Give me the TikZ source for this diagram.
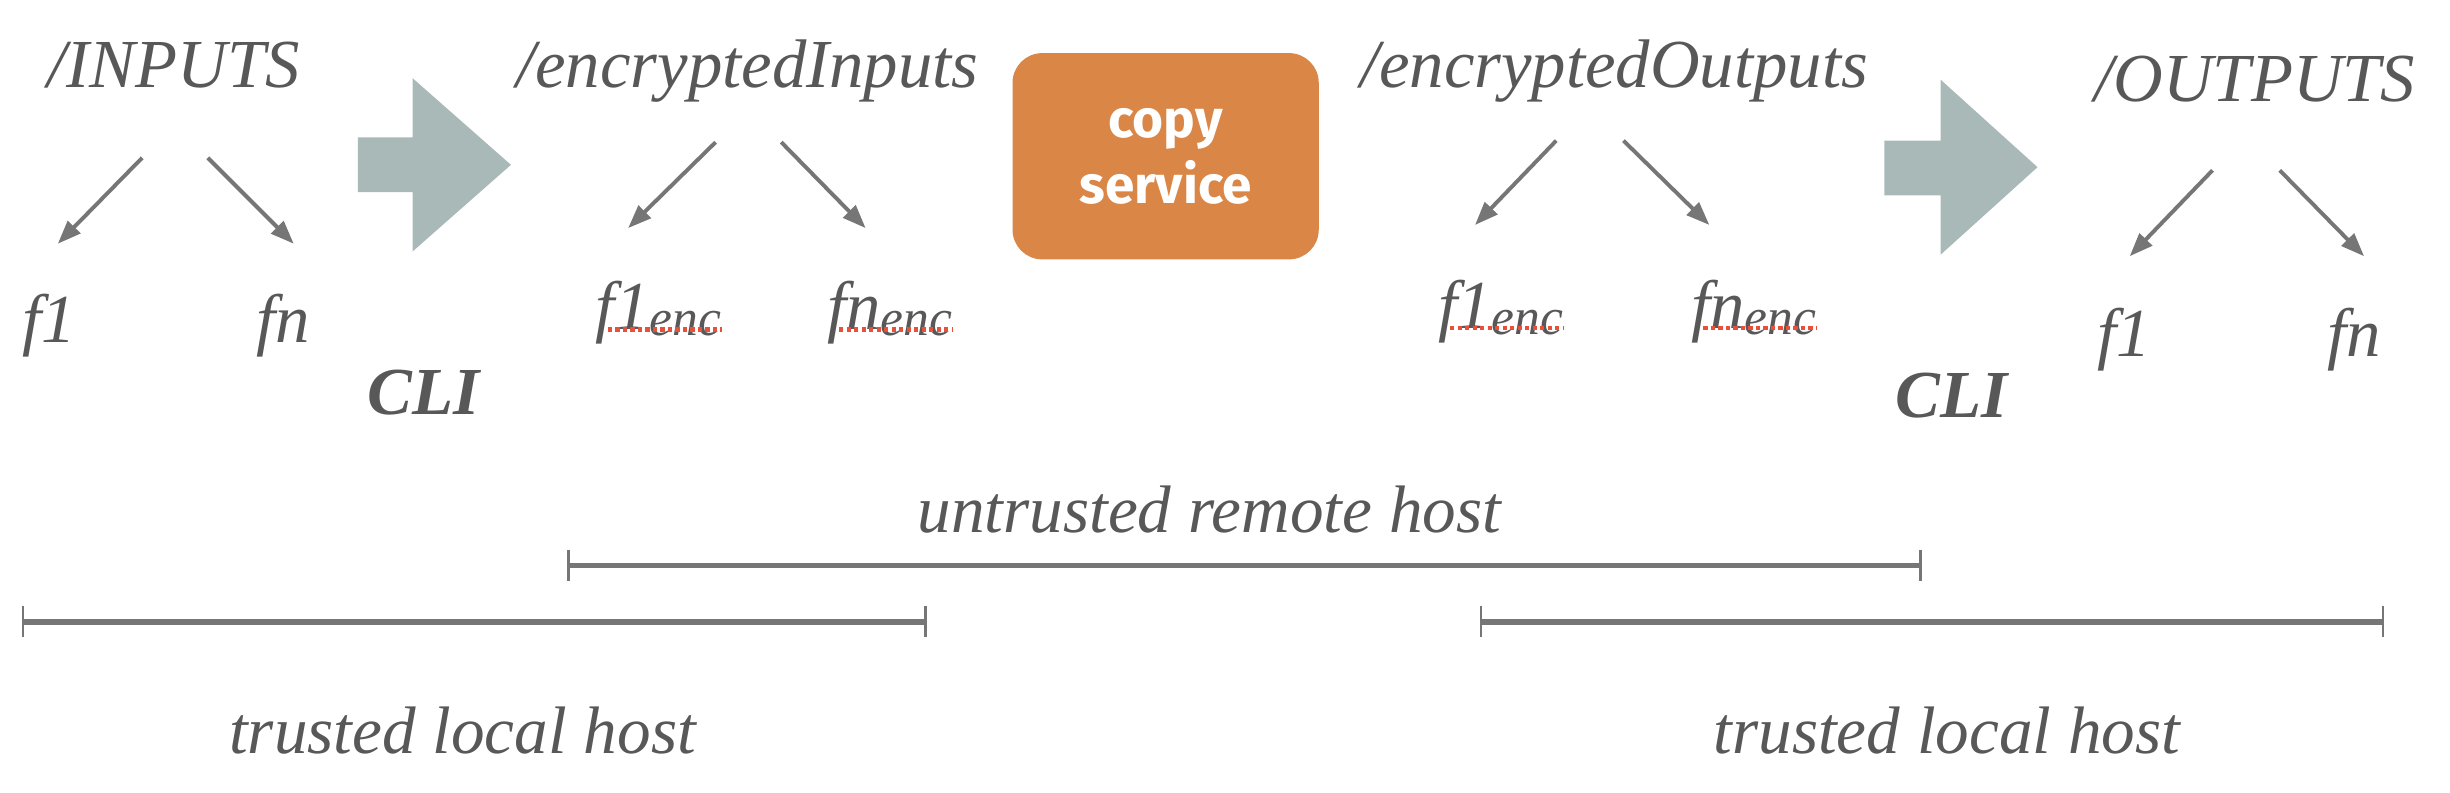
\documentclass[tikz,border=0pt]{standalone}
\usepackage{fontspec}
\setmainfont{Liberation Serif}
\newfontfamily\copyfont{Fira Sans}
\usetikzlibrary{arrows.meta}
\definecolor{txt}{HTML}{585858}
\definecolor{lin}{HTML}{767676}
\definecolor{bigarr}{HTML}{A9B9B8}
\definecolor{orng}{HTML}{DA8646}
\definecolor{spell}{HTML}{E8503A}
\newcommand\encsub{\raisebox{-2pt}{\fontsize{16.5}{18}\selectfont enc}}
\begin{document}
\begin{tikzpicture}[x=0.5pt,y=-0.5pt,
  lbl/.style={anchor=base west,inner sep=0pt,text=txt,font=\fontsize{22}{26}\selectfont\itshape},
  clabel/.style={anchor=base,inner sep=0pt,text=txt,font=\fontsize{21.5}{26}\selectfont\itshape},
  cli/.style={anchor=base west,inner sep=0pt,text=txt,font=\fontsize{21.5}{26}\selectfont\bfseries\itshape},
  arr/.style={draw=lin,line width=1.25pt,-{Triangle[length=7.5pt,width=5.5pt]}},
  bigarrow/.style={fill=bigarr},
  svc/.style={fill=orng,rounded corners=9.5pt,minimum width=98pt,minimum height=66pt,inner sep=0pt,
    text=white,align=center,font=\copyfont\bfseries\fontsize{17}{21}\selectfont},
  span/.style={draw=lin,line width=1.7pt,{Bar[width=10pt,line width=0.8pt]}-{Bar[width=10pt,line width=0.8pt]}},
  spellline/.style={draw=spell,line width=1.5pt,dash pattern=on 1.4pt off 1pt}
]
\useasboundingbox (0,0) rectangle (1568,507);

% directory labels
\node[lbl] (inputs) at (30,56) {/INPUTS};
\node[lbl] (encin) at (330,56) {/encryptedInputs};
\node[lbl] (encout) at (870,56) {/encryptedOutputs};
\node[lbl] (outputs) at (1340,65) {/OUTPUTS};

% files
\node[lbl] (f1a) at (14,219) {f1};
\node[lbl] (fna) at (164,219) {fn};
\node[lbl] (f1b) at (381,211) {f1\encsub};
\node[lbl] (fnb) at (529,211) {fn\encsub};
\node[lbl] (f1c) at (920,210) {f1\encsub};
\node[lbl] (fnc) at (1082,210) {fn\encsub};
\node[lbl] (f1d) at (1342,228) {f1};
\node[lbl] (fnd) at (1489,228) {fn};

% spell-check underlines
\foreach \n in {f1b,fnb,f1c,fnc}{
  \draw[spellline] ([xshift=4pt]\n.base west) -- (\n.base east);
}

% CLI labels
\node[cli] (cli1) at (235,265) {CLI};
\node[cli] (cli2) at (1213,267) {CLI};

% big arrows
\fill[bigarrow] (229,88) -- (264,88) -- (264,50) -- (327,105.5) -- (264,161) -- (264,123) -- (229,123) -- cycle;
\fill[bigarrow] (1206,90) -- (1242,90) -- (1242,51) -- (1304,107) -- (1242,163) -- (1242,125) -- (1206,125) -- cycle;

% copy service
\node[svc] (copy) at (746,100) {copy\\service};

% tree arrows
\coordinate (a1s) at (91,101);   \coordinate (a1e) at (37,156);
\coordinate (a2s) at (133,101);  \coordinate (a2e) at (188,156);
\coordinate (b1s) at (458,91);   \coordinate (b1e) at (402,146);
\coordinate (b2s) at (500,91);   \coordinate (b2e) at (554,146);
\coordinate (c1s) at (996,90);   \coordinate (c1e) at (944,144);
\coordinate (c2s) at (1039,90);  \coordinate (c2e) at (1094,144);
\coordinate (d1s) at (1416,109); \coordinate (d1e) at (1363,164);
\coordinate (d2s) at (1459,109); \coordinate (d2e) at (1513,164);
\foreach \p in {a1,a2,b1,b2,c1,c2,d1,d2}{
  \draw[arr] (\p s) -- (\p e);
}

% host spans
\coordinate (u1) at (363,362);  \coordinate (u2) at (1230,362);
\coordinate (t1) at (14,398);   \coordinate (t2) at (593,398);
\coordinate (t3) at (947,398);  \coordinate (t4) at (1526,398);
\draw[span] (u1) -- (u2);
\draw[span] (t1) -- (t2);
\draw[span] (t3) -- (t4);

\node[clabel] (untrusted) at (774,341) {untrusted remote host};
\node[clabel] (trusted1) at (296,482) {trusted local host};
\node[clabel] (trusted2) at (1246,482) {trusted local host};
\end{tikzpicture}
\end{document}
